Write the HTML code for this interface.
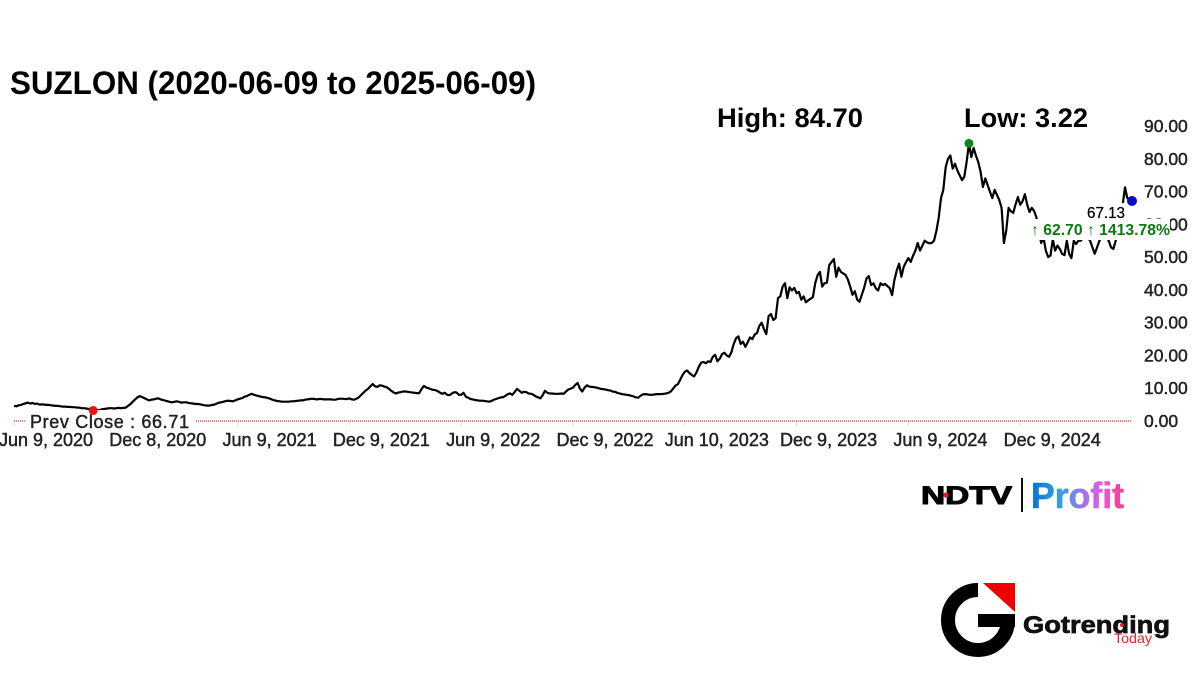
<!DOCTYPE html>
<html lang="en">
<head>
<meta charset="utf-8">
<title>SUZLON chart</title>
<style>
html,body{margin:0;padding:0;background:#fff;width:1200px;height:675px;overflow:hidden}
svg{display:block}
text{font-family:"Liberation Sans",sans-serif}
.axis{font-size:17.5px;fill:#222;stroke:#222;stroke-width:.45px}
.xaxis{font-size:18px;fill:#222;stroke:#222;stroke-width:.45px}
.head{font-weight:bold;fill:#000}
</style>
</head>
<body>
<svg id="chart" width="1200" height="675" viewBox="0 0 1200 675" xmlns="http://www.w3.org/2000/svg">
<defs>
<linearGradient id="profitGrad" gradientUnits="userSpaceOnUse" x1="1031" y1="0" x2="1124" y2="0">
<stop offset="0" stop-color="#0a6fd8"/><stop offset=".3" stop-color="#2fa0e6"/><stop offset=".55" stop-color="#9a78e8"/><stop offset=".78" stop-color="#ee55dd"/><stop offset="1" stop-color="#f0408a"/>
</linearGradient>
</defs>
<rect width="1200" height="675" fill="#fff"/>
<text class="head" x="10" y="94" font-size="32" textLength="526" lengthAdjust="spacingAndGlyphs">SUZLON (2020-06-09 to 2025-06-09)</text>
<text class="head" x="717" y="127" font-size="27" textLength="146" lengthAdjust="spacingAndGlyphs">High: 84.70</text>
<text class="head" x="964" y="127" font-size="27" textLength="124" lengthAdjust="spacingAndGlyphs">Low: 3.22</text>
<g id="ticks"></g>
<g id="xlabels"></g>
<g id="ylabels"></g>
<line id="prevLine" stroke="#c8343a" stroke-width="1.3" stroke-dasharray="1 1"/>
<path id="priceLine" fill="none" stroke="#000" stroke-width="2.2" stroke-linejoin="round"/>
<rect x="25" y="410" width="170" height="21" fill="#fff"/>
<text class="xaxis" x="30" y="428" textLength="159" lengthAdjust="spacing">Prev Close : 66.71</text>
<rect x="1085" y="203" width="39" height="19" fill="#fff"/>
<rect x="1030" y="219" width="140" height="21" fill="#fff"/>
<text x="1087" y="218" font-size="16" fill="#000" stroke="#000" stroke-width=".25" textLength="38" lengthAdjust="spacingAndGlyphs">67.13</text>
<text x="1031" y="235" font-size="15.5" font-weight="bold" fill="#0b7a12" textLength="139" lengthAdjust="spacingAndGlyphs">↑ 62.70 ↑ 1413.78%</text>
<g id="markers"></g>

<g>
<text x="921" y="504" font-size="25" font-weight="bold" fill="#000" stroke="#000" stroke-width="1" textLength="91" lengthAdjust="spacingAndGlyphs">NDTV</text>
<circle cx="946" cy="495" r="2.6" fill="#e01b22"/>
<rect x="1021" y="478" width="2" height="34" fill="#111"/>
<text x="1031" y="508" font-size="36" font-weight="bold" fill="url(#profitGrad)" stroke="url(#profitGrad)" stroke-width=".6" textLength="93" lengthAdjust="spacingAndGlyphs">Profit</text>
</g>

<g>
<path d="M978 590 A30 30 0 1 0 1008 620" fill="none" stroke="#000" stroke-width="14"/>
<rect x="978" y="614" width="37" height="13" fill="#000"/>
<polygon points="983,583 1015,583 1015,612" fill="#ee0000"/>
<text x="1023" y="633" font-size="24" font-weight="bold" fill="#111" stroke="#111" stroke-width=".7" textLength="147" lengthAdjust="spacingAndGlyphs">Gotrending</text>
<circle cx="1122" cy="625" r="2" fill="#e01b22"/>
<text x="1114" y="643" font-size="14" fill="#e0262c" textLength="38" lengthAdjust="spacingAndGlyphs">Today</text>
</g>
</svg>
<script>
// Closing prices, 8 samples per month, Jun 2020 to Jun 2025
const prices = [
4.6,4.5,4.8,4.9,5.2,5.4,5.6,5.3,5.5,5.2,5.3,5.0,
5.1,5.0,4.9,4.9,4.8,4.7,4.6,4.6,4.5,4.4,4.4,4.3,
4.3,4.2,4.2,4.1,4.1,3.9,3.9,3.8,3.7,3.6,3.22,3.3,
3.3,3.4,3.6,3.7,3.8,3.9,3.9,3.8,3.9,4.0,3.9,4.0,

4.1,4.6,5.2,5.9,6.6,7.2,7.6,7.3,7.0,6.6,6.3,6.5,
6.6,6.8,6.9,6.6,6.4,6.2,6.0,5.8,5.7,5.9,6.0,5.8,
5.6,5.7,5.7,5.5,5.4,5.3,5.2,5.2,5.1,4.9,4.8,4.7,
4.7,4.9,5.0,5.3,5.6,5.7,5.9,6.1,6.2,6.1,6.0,6.3,

6.6,6.8,7.0,7.4,7.6,8.0,8.3,8.0,7.8,7.6,7.4,7.3,
7.2,7.0,6.8,6.5,6.3,6.1,6.0,5.9,5.9,5.9,5.9,6.0,
6.0,6.1,6.2,6.3,6.3,6.5,6.6,6.7,6.8,6.7,6.6,6.7,
6.7,6.6,6.6,6.6,6.6,6.5,6.5,6.7,6.8,6.8,6.7,6.7,

6.9,6.6,6.5,6.8,7.2,7.9,8.6,9.3,9.8,10.6,11.3,10.6,
10.4,10.9,10.8,10.5,10.3,9.8,9.2,8.7,8.4,8.7,8.8,9.0,
9.0,8.9,8.8,8.7,8.6,8.5,8.5,9.8,10.7,10.2,10.0,9.7,
9.5,9.4,9.1,8.6,8.3,8.6,8.0,7.9,8.4,8.8,8.7,8.0,

8.0,8.6,7.4,7.1,6.7,6.6,6.4,6.3,6.2,6.2,6.1,6.0,
5.9,6.1,6.5,6.7,7.0,7.2,7.3,7.7,8.2,8.4,8.0,8.9,
9.8,9.2,8.6,8.9,8.8,8.4,8.3,8.0,7.5,7.2,6.9,7.9,
9.2,8.6,8.4,8.4,8.3,8.3,8.3,8.4,8.3,9.0,9.6,9.9,

10.2,11.0,11.6,9.8,9.0,10.2,10.9,10.5,10.4,10.3,10.2,10.0,
9.8,9.7,9.6,9.4,9.3,9.0,8.9,8.6,8.4,8.2,8.1,8.0,
7.9,7.7,7.5,7.2,7.1,7.7,8.1,8.2,8.1,8.0,8.0,8.1,
8.2,8.2,8.2,8.3,8.4,8.6,9.0,9.9,10.8,11.2,12.5,14.0,

15.0,15.4,14.6,14.0,13.6,14.8,16.5,17.8,18.0,17.6,18.2,18.0,
19.6,20.2,18.2,19.0,20.4,20.8,20.0,19.6,21.0,23.5,25.2,25.8,
23.5,24.2,22.6,24.0,25.5,25.0,26.4,26.8,29.0,30.0,28.0,26.5,
32.0,32.6,30.8,31.4,37.5,38.0,41.0,42.0,37.5,40.8,39.8,40.6,

39.0,39.4,37.0,38.0,36.2,36.8,37.3,37.8,42.0,44.5,45.5,41.0,
42.0,42.2,47.5,48.5,49.4,44.0,46.8,45.5,45.0,44.6,43.2,41.0,
38.5,39.6,37.0,36.4,38.5,40.6,43.5,44.2,41.5,42.0,40.5,39.8,
42.0,41.5,41.8,41.2,40.5,38.4,43.0,46.0,48.0,44.0,47.0,48.5,

49.7,48.5,50.5,52.0,54.3,52.0,53.5,55.0,54.5,54.2,54.3,55.0,
58.0,62.0,68.0,70.5,77.5,80.0,81.0,77.0,78.5,76.5,75.0,73.5,
74.5,79.0,84.7,80.5,83.3,81.0,79.0,76.0,71.4,74.0,72.0,70.0,
68.0,70.5,69.0,67.5,65.0,54.3,58.0,65.0,64.0,63.5,66.0,68.3,

66.0,67.0,69.2,66.0,63.8,65.0,64.0,62.0,58.0,54.3,56.0,52.0,
50.0,50.5,55.5,52.0,53.5,52.5,51.0,50.6,55.0,51.0,49.7,55.0,
54.0,55.0,55.0,56.0,57.0,56.0,55.0,53.0,51.0,53.0,55.0,56.0,
57.0,56.0,55.0,53.0,52.5,55.0,58.0,62.0,66.0,71.3,68.0,67.5,
67.13
];
const yTickValues = [0,10,20,30,40,50,60,70,80,90];
const xTickLabels = ["Jun 9, 2020","Dec 8, 2020","Jun 9, 2021","Dec 9, 2021","Jun 9, 2022","Dec 9, 2022","Jun 10, 2023","Dec 9, 2023","Jun 9, 2024","Dec 9, 2024"];
const samplesPerTick = [48];
const prevClose = [66.71];

const NS = 'http://www.w3.org/2000/svg';
function xAxis(i){ return 14 + i * (1132 - 14) / 480; }
function yAxis(v){ return 421 - v * (421 - 126) / 90; }

const ticksG = document.getElementById('ticks');
const xG = document.getElementById('xlabels');
xTickLabels.forEach(function(label, n){
  const px = xAxis(n * samplesPerTick[0]);
  const t = document.createElementNS(NS, 'line');
  
  
  t.setAttribute('x1', px); t.setAttribute('x2', px);
  t.setAttribute('y1', 421); t.setAttribute('y2', 426);
  t.setAttribute('stroke', '#ddd');
  ticksG.appendChild(t);
  const s = document.createElementNS(NS, 'text');
  
  
  s.setAttribute('class', 'xaxis');
  s.setAttribute('x', px + 32);
  s.setAttribute('y', 446);
  s.setAttribute('text-anchor', 'middle');
  s.textContent = label;
  xG.appendChild(s);
});

const yG = document.getElementById('ylabels');
yTickValues.forEach(function(v){
  const s = document.createElementNS(NS, 'text');
  
  
  s.setAttribute('class', 'axis');
  s.setAttribute('x', 1144);
  s.setAttribute('y', yAxis(v) + 6);
  s.textContent = v.toFixed(2);
  yG.appendChild(s);
});

const prev = document.getElementById('prevLine');
prev.setAttribute('x1', xAxis(0));
prev.setAttribute('x2', xAxis(prices.length - 1));
prev.setAttribute('y1', 421);
prev.setAttribute('y2', 421);

document.getElementById('priceLine').setAttribute('d', prices.map(function(v, i){
  return (i ? 'L' : 'M') + xAxis(i).toFixed(1) + ' ' + yAxis(v).toFixed(1);
}).join(' '));

const mG = document.getElementById('markers');
const hiV = Math.max.apply(null, prices);
const loV = Math.min.apply(null, prices);

const hiDot = document.createElementNS(NS, 'circle');


hiDot.setAttribute('cx', xAxis(prices.indexOf(hiV)));
hiDot.setAttribute('cy', yAxis(hiV));
hiDot.setAttribute('r', 4.5);
hiDot.setAttribute('fill', '#0a8a12');
mG.appendChild(hiDot);

const loDot = document.createElementNS(NS, 'circle');


loDot.setAttribute('cx', xAxis(prices.indexOf(loV)));
loDot.setAttribute('cy', yAxis(loV));
loDot.setAttribute('r', 4.5);
loDot.setAttribute('fill', '#ee1111');
mG.appendChild(loDot);

const lastDot = document.createElementNS(NS, 'circle');


lastDot.setAttribute('cx', xAxis(prices.length - 1));
lastDot.setAttribute('cy', yAxis(prices[prices.length - 1]));
lastDot.setAttribute('r', 5);
lastDot.setAttribute('fill', '#0a0ac8');
mG.appendChild(lastDot);
</script>
</body>
</html>
